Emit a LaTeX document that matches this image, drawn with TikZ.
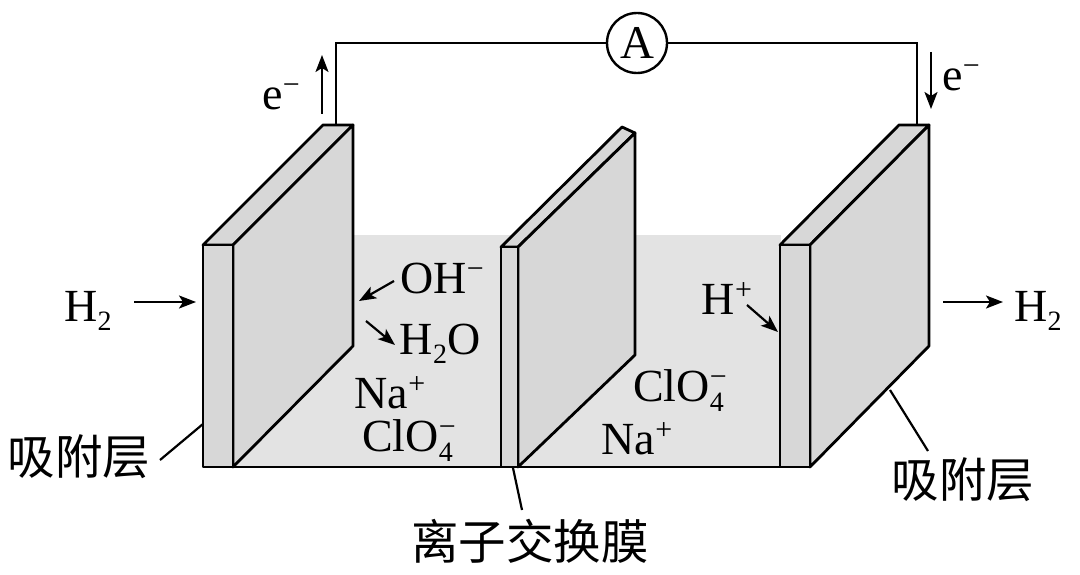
\documentclass[tikz,border=0pt]{standalone}
\usepackage{fontspec}
\setmainfont{Liberation Serif}
\newfontfamily\cjk{Noto Sans CJK SC}
\usetikzlibrary{arrows.meta}
\newcommand{\sub}[1]{\raisebox{-9pt}{\fontsize{28}{28}\selectfont #1}}
\newcommand{\sups}[1]{\raisebox{15pt}{\fontsize{30}{30}\selectfont #1}}
\newcommand{\clo}{ClO\rlap{\raisebox{-10pt}{\fontsize{28}{28}\selectfont 4}}\raisebox{15pt}{\fontsize{30}{30}\selectfont −}}
\tikzset{
  every node/.style={inner sep=0pt,outer sep=0pt},
  lbl/.style={font=\fontsize{46}{46}\selectfont,anchor=base},
  zh/.style={font=\fontsize{47.5}{48}\selectfont\cjk,anchor=center},
  wall/.style={draw=black,line width=2.8pt,fill=plate,line join=round},
  wire/.style={draw=black,line width=2.4pt},
  arr/.style={draw=black,line width=2.2pt,-{Stealth[length=17pt,width=13pt,inset=4pt]}},
  lead/.style={draw=black,line width=2.2pt},
}
\definecolor{plate}{HTML}{D7D7D7}
\definecolor{bath}{HTML}{E3E3E3}
\begin{document}
\begin{tikzpicture}[x=1pt,y=-1pt]
\useasboundingbox (0,0) rectangle (1080,575);
% bath
\fill[bath] (233,235) rectangle (781,467);
% left plate
\draw[wall] (203,245) -- (323,125) -- (353,125) -- (233,245) -- cycle;
\draw[wall] (233,245) -- (353,125) -- (353,346) -- (233,467) -- cycle;
\draw[wall] (203,245) rectangle (233,467);
% middle plate
\draw[wall] (501,247) -- (622,127) -- (635,133) -- (518,247) -- cycle;
\draw[wall] (518,247) -- (635,133) -- (635,355) -- (518,467) -- cycle;
\draw[wall] (501,247) rectangle (518,467);
% right plate
\draw[wall] (780,245) -- (899,125) -- (929,125) -- (810,245) -- cycle;
\draw[wall] (810,245) -- (929,125) -- (929,346) -- (810,467) -- cycle;
\draw[wall] (780,245) rectangle (810,467);
% floor line
\draw[wall] (203,467) -- (810,467);
% circuit
\coordinate (ltop) at (336,125);
\coordinate (lcor) at (336,43);
\coordinate (rcor) at (917,43);
\coordinate (rtop) at (917,125);
\node[circle,draw=black,line width=2.4pt,fill=white,minimum size=60pt,font=\fontsize{47}{47}\selectfont] (amm) at (637,43) {A};
\draw[wire] (ltop) -- (lcor) -- (amm);
\draw[wire] (amm) -- (rcor) -- (rtop);
% electrons
\node[lbl] (eL) at (281,110) {e\sups{−}};
\node[lbl] (eR) at (961,91) {e\sups{−}};
\coordinate (ua) at (322,114); \coordinate (ub) at (322,55);
\coordinate (da) at (931,52); \coordinate (db) at (931,109);
\draw[arr] (ua) -- (ub);
\draw[arr] (da) -- (db);
% H2
\node[lbl] (h2l) at (88,321) {H\sub{2}};
\node[lbl] (h2r) at (1038,321) {H\sub{2}};
\coordinate (a1) at (134,302); \coordinate (a2) at (196,302);
\coordinate (a3) at (943,302); \coordinate (a4) at (1003,302);
\draw[arr] (a1) -- (a2);
\draw[arr] (a3) -- (a4);
% ions
\node[lbl] (oh) at (442,293) {OH\sups{−}};
\node[lbl] (h2o) at (440,354) {H\sub{2}O};
\node[lbl] (nal) at (390,408) {Na\sups{+}};
\node[lbl] (clol) at (409,451) {\clo};
\node[lbl] (clor) at (680,401) {\clo};
\node[lbl] (nar) at (637,454) {Na\sups{+}};
\node[lbl] (hp) at (727,314) {H\sups{+}};
\coordinate (b1) at (394,281); \coordinate (b2) at (359,301);
\coordinate (b3) at (366,321); \coordinate (b4) at (395,345);
\coordinate (b5) at (747,305); \coordinate (b6) at (778,332);
\draw[arr] (b1) -- (b2);
\draw[arr] (b3) -- (b4);
\draw[arr] (b5) -- (b6);
% callouts
\node[zh] (xl) at (79,457) {吸附层};
\node[zh] (xr) at (963,480) {吸附层};
\node[zh] (mem) at (530,541) {离子交换膜};
\coordinate (c1) at (160,460); \coordinate (c2) at (203,424);
\coordinate (c3) at (928,451); \coordinate (c4) at (890,390);
\coordinate (c5) at (522,510); \coordinate (c6) at (513,468);
\draw[lead] (c1) -- (c2);
\draw[lead] (c3) -- (c4);
\draw[lead] (c5) -- (c6);
\end{tikzpicture}
\end{document}
